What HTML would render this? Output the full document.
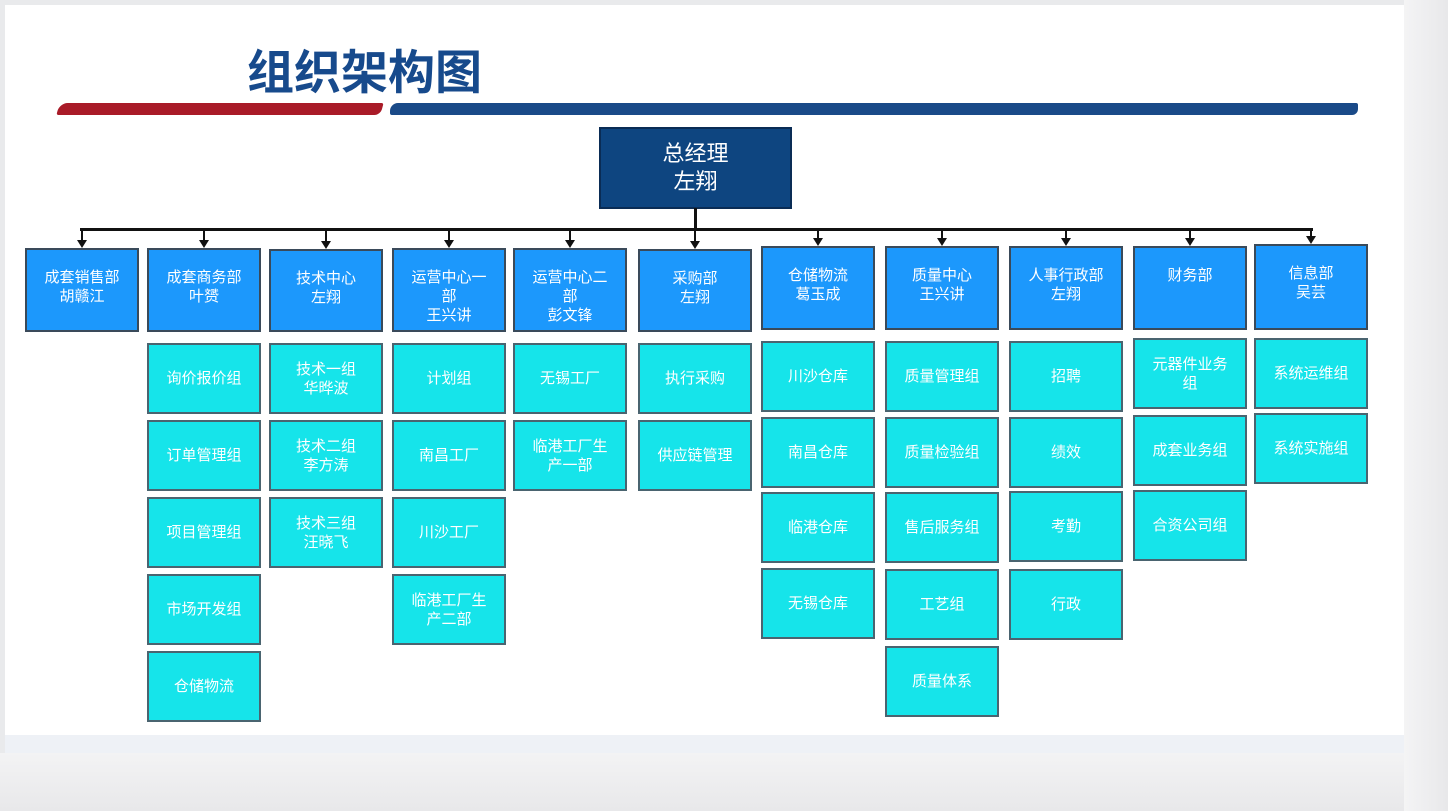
<!DOCTYPE html>
<html><head><meta charset="utf-8"><style>
*{margin:0;padding:0;box-sizing:border-box}
body{width:1448px;height:811px;background:#e9eaec;position:relative;overflow:hidden;font-family:"Liberation Sans","Noto Sans CJK SC",sans-serif}
.slide{position:absolute;left:5px;top:5px;width:1399px;height:748px;background:#fff}
.band{position:absolute;left:5px;top:735px;width:1399px;height:18px;background:#eef1f6}
.floor{position:absolute;left:0;top:753px;width:1448px;height:58px;background:linear-gradient(#f3f3f4,#e8e8ea)}
.rs{position:absolute;left:1404px;top:0;width:44px;height:811px;background:linear-gradient(90deg,#f4f4f5,#e8e8ea)}
.b{position:absolute;display:flex;align-items:center;justify-content:center;text-align:center;color:#fff;font-size:15px;line-height:19px;border:2px solid #3a4a5a}
.d{background:#1c98fc;align-items:flex-start;padding-top:18px}
.s{background:#16e4ea;border-color:#4a6470}
.t{position:absolute;left:247px;top:34px;font-size:47px;font-weight:bold;color:#174a8c;letter-spacing:0px}
.ln{position:absolute;background:#111}
.ar{position:absolute;width:0;height:0;border-left:5px solid transparent;border-right:5px solid transparent;border-top:8px solid #111}
</style></head><body>
<div class="slide"></div><div class="band"></div><div class="floor"></div><div class="rs"></div>
<div class="t">组织架构图</div>
<div style="position:absolute;left:58px;top:103px;width:324px;height:12px;background:#a91b28;border-radius:8px 2px 6px 2px;transform:skewX(-15deg)"></div>
<div style="position:absolute;left:390px;top:103px;width:968px;height:12px;background:#1a4a88;border-radius:8px 2px 6px 2px"></div>
<div class="b" style="left:599px;top:127px;width:193px;height:82px;background:#0e4580;border-color:#0a2c55;font-size:22px;line-height:28px">总经理<br>左翔</div>
<div class="ln" style="left:694px;top:208px;width:3px;height:22px"></div>
<div class="ln" style="left:80px;top:228px;width:1233px;height:3px"></div>
<div id="g"></div>
<script>
const cols=[25,147,269,392,513,638,761,885,1009,1133,1254];
const tops=[[248,"成套销售部<br>胡赣江"],[248,"成套商务部<br>叶赟"],[249,"技术中心<br>左翔"],[248,"运营中心一<br>部<br>王兴讲"],[248,"运营中心二<br>部<br>彭文锋"],[249,"采购部<br>左翔"],[246,"仓储物流<br>葛玉成"],[246,"质量中心<br>王兴讲"],[246,"人事行政部<br>左翔"],[246,"财务部"],[244,"信息部<br>吴芸"]];
const subs=[[],
[[343,"询价报价组"],[420,"订单管理组"],[497,"项目管理组"],[574,"市场开发组"],[651,"仓储物流"]],
[[343,"技术一组<br>华晔波"],[420,"技术二组<br>李方涛"],[497,"技术三组<br>汪晓飞"]],
[[343,"计划组"],[420,"南昌工厂"],[497,"川沙工厂"],[574,"临港工厂生<br>产二部"]],
[[343,"无锡工厂"],[420,"临港工厂生<br>产一部"]],
[[343,"执行采购"],[420,"供应链管理"]],
[[341,"川沙仓库"],[417,"南昌仓库"],[492,"临港仓库"],[568,"无锡仓库"]],
[[341,"质量管理组"],[417,"质量检验组"],[492,"售后服务组"],[569,"工艺组"],[646,"质量体系"]],
[[341,"招聘"],[417,"绩效"],[491,"考勤"],[569,"行政"]],
[[338,"元器件业务<br>组"],[415,"成套业务组"],[490,"合资公司组"]],
[[338,"系统运维组"],[413,"系统实施组"]]];
let h="";
cols.forEach((x,i)=>{const [t,l]=tops[i];const cx=x+56;
h+=`<div class="ln" style="left:${cx}px;top:229px;width:2px;height:${t-237}px"></div><div class="ar" style="left:${cx-4}px;top:${t-8}px"></div>`;
h+=`<div class="b d" style="left:${x}px;top:${t}px;width:114px;height:${330-t+ (i>5?0:2)}px">${l}</div>`;
subs[i].forEach(([y,s])=>{h+=`<div class="b s" style="left:${x}px;top:${y}px;width:114px;height:71px">${s}</div>`});});
document.getElementById("g").innerHTML=h;
</script>
</body></html>
